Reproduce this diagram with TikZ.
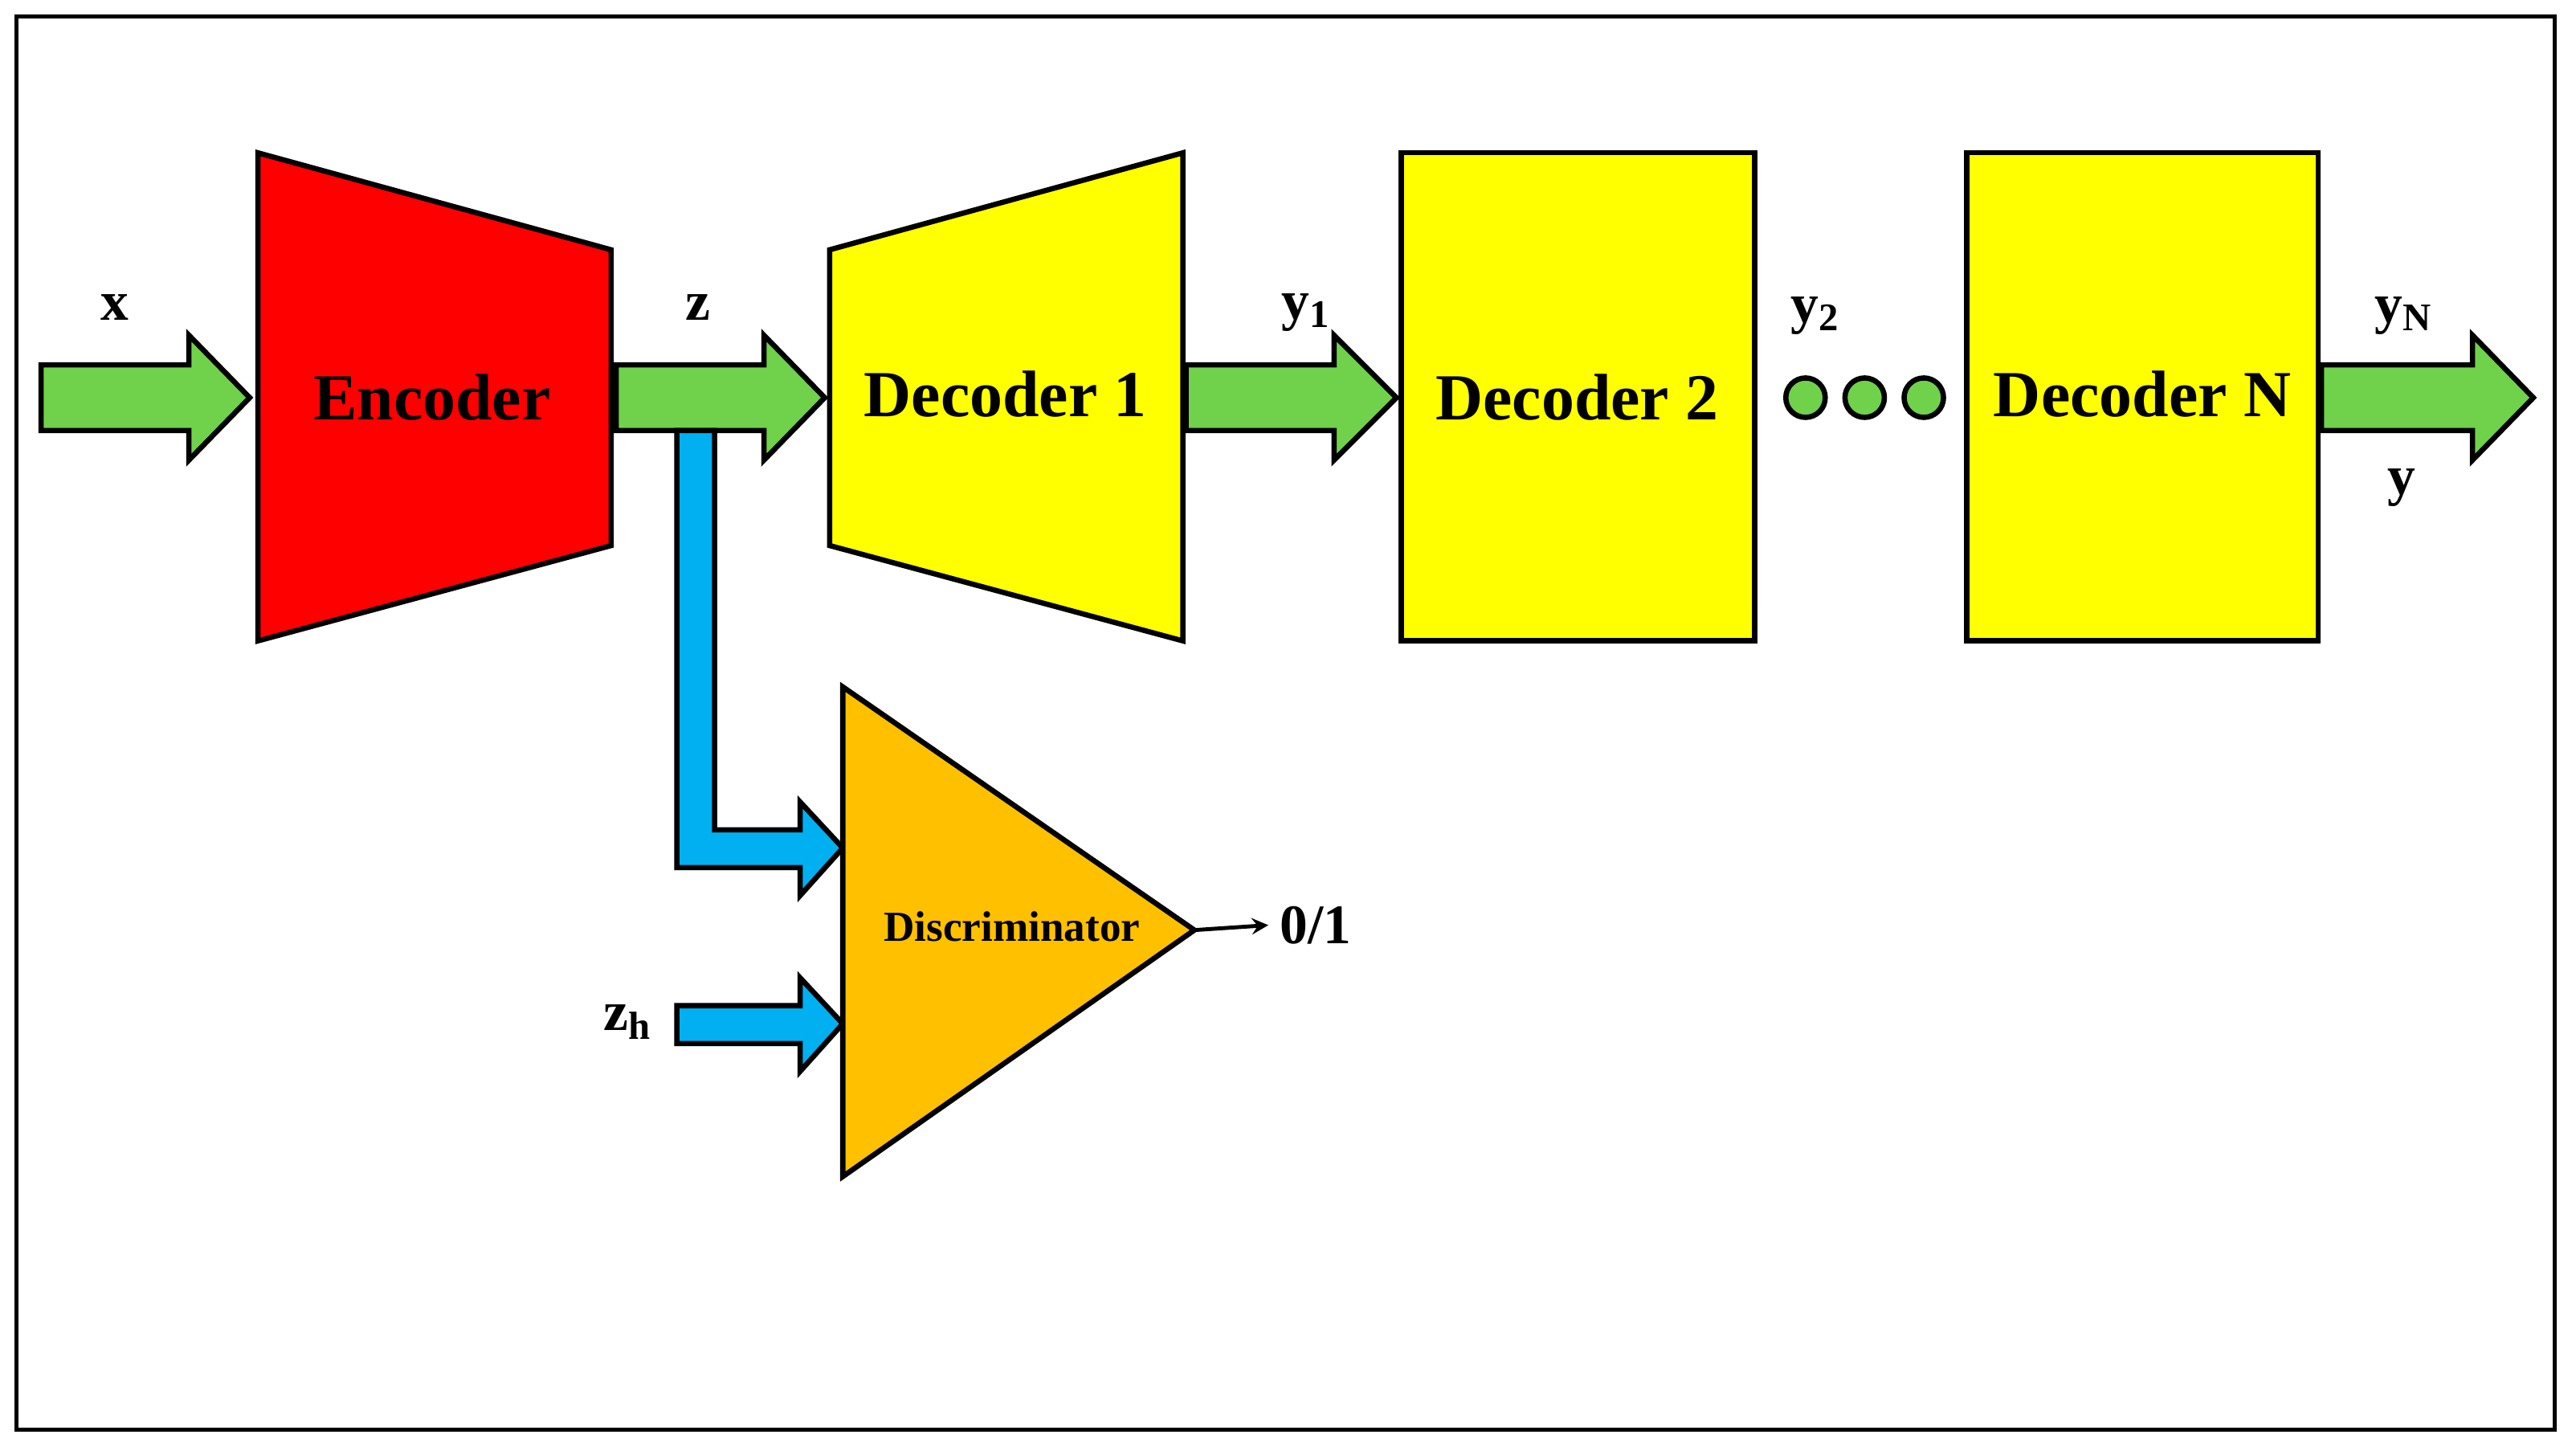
\documentclass[tikz,border=0pt]{standalone}
\usepackage{fontspec}
\setmainfont{Liberation Serif}
\definecolor{garrow}{HTML}{6FD24A}
\definecolor{barrow}{HTML}{00B0F0}
\definecolor{dorange}{HTML}{FFC000}
\definecolor{dyellow}{HTML}{FFFF00}
\begin{document}
\begin{tikzpicture}[x=0.5pt,y=-0.5pt,
  shp/.style={draw=black,line width=1.6pt,line join=miter},
  big/.style={font=\fontsize{20}{22}\selectfont\bfseries},
  lab/.style={font=\fontsize{17}{19}\selectfont\bfseries},
  ]
\useasboundingbox (0,0) rectangle (1568,885);
\draw[line width=1.3pt] (10,10) rectangle (1555,870);
\newcommand\blkarrow[6]{% x0, xh, tip, yc, sh, hh, color via option
  \filldraw[shp,fill=garrow] (#1,#4-#5) -- (#2,#4-#5) -- (#2,#4-#6) -- (#3,#4) -- (#2,#4+#6) -- (#2,#4+#5) -- (#1,#4+#5) -- cycle;}
% encoder & decoders
\filldraw[shp,fill=red] (157,93) -- (372,152) -- (372,332) -- (157,390) -- cycle;
\node[big] (enc) at (263,242) {Encoder};
\filldraw[shp,fill=dyellow] (505,152) -- (720,93) -- (720,390) -- (505,332) -- cycle;
\node[big] (dec1) at (612,240) {Decoder 1};
\filldraw[shp,fill=dyellow] (853,93) rectangle (1068,390);
\node[big] (dec2) at (960,242) {Decoder 2};
\filldraw[shp,fill=dyellow] (1197,93) rectangle (1411,390);
\node[big] (decn) at (1304,240) {Decoder N};
% green arrows
\blkarrow{25}{115}{152}{242}{20}{38}
\blkarrow{375}{465}{502}{242}{20}{38}
\blkarrow{722}{812}{850}{242}{20}{38}
\blkarrow{1413}{1505}{1542}{242}{20}{38}
% blue arrows
\filldraw[shp,fill=barrow] (412,262) -- (435,262) -- (435,505) -- (487,505) -- (487,488) -- (513,516) -- (487,545) -- (487,528) -- (412,528) -- cycle;
\filldraw[shp,fill=barrow] (412,612) -- (487,612) -- (487,595) -- (513,623) -- (487,652) -- (487,635) -- (412,635) -- cycle;
% dots
\foreach \xx/\nm in {1099/d1,1135/d2,1171/d3}
  \filldraw[shp,fill=garrow] (\xx,242) circle (12) coordinate (\nm);
% discriminator
\filldraw[shp,fill=dorange] (513,418) -- (513,716) -- (727,566) -- cycle;
\coordinate (dtip) at (727,566);
\node[font=\fontsize{13}{15}\selectfont\bfseries] (disc) at (616,564) {Discriminator};
\node[lab,anchor=west] (out) at (772,563) {0/1};
\draw[line width=1.2pt,-stealth] (dtip) -- (out.west);
% labels
\node[lab] (lx) at (70,187) {x};
\node[lab] (lz) at (425,187) {z};
\node[lab] (ly1) at (795,190) {y\textsubscript{1}};
\node[lab] (ly2) at (1105,192) {y\textsubscript{2}};
\node[lab] (lyn) at (1463,192) {y\textsubscript{N}};
\node[lab] (ly) at (1462,297) {y};
\node[lab] (lzh) at (382,622) {z\textsubscript{h}};
\end{tikzpicture}
\end{document}
